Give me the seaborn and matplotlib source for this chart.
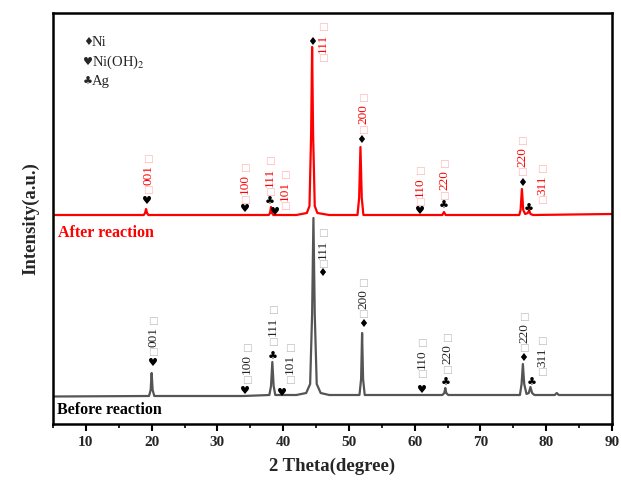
import numpy as np
import pandas as pd
import matplotlib
matplotlib.use("Agg")
import matplotlib.pyplot as plt
import seaborn as sns

# ---------------- data ----------------
before_theta = [5, 19.6, 19.85, 20.0, 20.15, 20.4, 34, 37.9, 38.15, 38.35, 38.55, 38.8,
                42, 43.5, 44.1, 44.4, 44.6, 44.8, 45.1, 45.7, 47, 51.6, 51.85, 52.0, 52.15,
                52.4, 64.2, 64.5, 64.65, 64.8, 65.1, 76.0, 76.25, 76.45, 76.65, 77.0, 77.35,
                77.6, 77.85, 78.2, 81.3, 81.6, 81.9, 90]
before_int = [27.5, 28, 34, 51, 34, 28, 28, 29, 38, 62, 38, 29,
              29, 31, 40, 110, 206, 110, 40, 31, 29, 29, 45, 91, 45,
              29, 29, 31, 36, 31, 29, 29, 40, 60, 40, 30, 31,
              37, 31, 29, 29, 31, 29, 29]

after_theta = [5, 18.8, 19.0, 19.15, 19.3, 19.5, 37.8, 38.0, 38.15, 38.3, 38.5,
               42, 43.6, 44.0, 44.25, 44.4, 44.55, 44.8, 45.2, 47, 51.3, 51.55, 51.75,
               51.95, 52.2, 64.2, 64.45, 64.7, 75.9, 76.1, 76.3, 76.5, 76.8, 77.2, 77.4,
               77.6, 78.0, 90]
after_int = [209, 209, 211, 215, 211, 209, 209, 211, 217, 211, 209,
             209, 211, 218, 290, 377, 290, 218, 211, 209, 209, 226, 277,
             226, 209, 209, 212, 209, 209, 214, 235, 214, 210, 211, 214,
             210, 209, 210]

# phase markers: (symbol, 2theta, y)
after_marks = [("♥", 19.29, 223), ("♥", 34.2, 215), ("♣", 38.0, 222), ("♥", 38.76, 212),
               ("♦", 44.39, 382), ("♦", 51.84, 284), ("♥", 60.81, 213), ("♣", 64.46, 218),
               ("♦", 76.32, 241), ("♣", 77.38, 215)]
before_marks = [("♥", 20.21, 61), ("♥", 34.2, 33), ("♣", 38.46, 67), ("♥", 39.82, 31),
                ("♦", 45.91, 151), ("♦", 52.14, 100), ("♥", 61.11, 34), ("♣", 64.76, 41),
                ("♦", 76.47, 66), ("♣", 77.84, 41)]

# hkl labels: (text, 2theta, y-centre)
after_hkl = [("001", 19.45, 249), ("100", 34.2, 240), ("111", 38.0, 247), ("101", 40.28, 233),
             ("111", 46.06, 381), ("200", 52.14, 310), ("110", 60.81, 237), ("220", 64.46, 244),
             ("220", 76.32, 267), ("311", 79.36, 239)]
before_hkl = [("001", 20.21, 87), ("100", 34.5, 60), ("111", 38.46, 98), ("101", 41.04, 60),
              ("111", 46.06, 175), ("200", 52.14, 125), ("110", 61.11, 65), ("220", 64.91, 70),
              ("220", 76.62, 91), ("311", 79.36, 67)]

xticks = [10, 20, 30, 40, 50, 60, 70, 80, 90]

# ---------------- style ----------------
sns.set_theme(style="ticks")
plt.rcParams['font.family'] = ['Liberation Serif', 'DejaVu Sans']
plt.rcParams['mathtext.fontset'] = 'stix'

fig = plt.figure(figsize=(6.21, 4.88), dpi=100)
ax = fig.add_axes([53/621, 64/488, 559/621, 411/488])

df_b = pd.DataFrame({"theta": before_theta, "I": before_int})
df_a = pd.DataFrame({"theta": after_theta, "I": after_int})
sns.lineplot(data=df_b, x="theta", y="I", ax=ax, color="#555555", lw=1.6, sort=False)
sns.lineplot(data=df_a, x="theta", y="I", ax=ax, color="#ff0000", lw=1.6, sort=False)

sym_font = ['DejaVu Sans']
for marks in (after_marks, before_marks):
    for s, x, y in marks:
        ax.text(x, y, s, ha='center', va='center', fontsize=8, color='black',
                family=sym_font, zorder=5)

def hkl(labels, color, boxcolor):
    for t, x, y in labels:
        ax.text(x, y, t, rotation=90, ha='center', va='center', fontsize=9.5,
                color=color, zorder=5)
        for dy in (-15.5, 16):
            ax.text(x, y + dy, "□", ha='center', va='center', fontsize=7.5,
                    color=boxcolor, family=sym_font, zorder=5)

hkl(after_hkl, '#ff0000', '#ffb4b4')
hkl(before_hkl, '#222222', '#bdbdbd')

# legend-like annotations
lx, tx = 10.3, 10.9
for s, lab, y in (("♦", "Ni", 382), ("♥", "Ni(OH)$_2$", 362), ("♣", "Ag", 342)):
    ax.text(lx, y, s, fontsize=8, family=sym_font, ha='center', va='center')
    ax.text(tx, y, lab, fontsize=10.5, ha='left', va='center')

ax.text(5.7, 191, "After reaction", color='#ff0000', fontsize=11.5, fontweight='bold',
        ha='left', va='center')
ax.text(5.6, 14, "Before reaction", color='black', fontsize=11.5, fontweight='bold',
        ha='left', va='center')

ax.set_xlim(5, 90)
ax.set_ylim(0, 411)
ax.set_xticks(xticks)
ax.set_xticks(np.arange(5, 91, 5), minor=True)
ax.set_yticks([])
ax.tick_params(axis='x', which='major', direction='out', length=5, width=1.5,
               labelsize=11, pad=4, color='black')
ax.tick_params(axis='x', which='minor', direction='out', length=3, width=1.2, color='black')
for lab in ax.get_xticklabels():
    lab.set_fontweight('bold')
for sp in ax.spines.values():
    sp.set_visible(True)
    sp.set_linewidth(1.8)
    sp.set_color('black')

ax.set_xlabel("2 Theta(degree)", fontsize=13.5, fontweight='bold', labelpad=6)
ax.set_ylabel("Intensity(a.u.)", fontsize=13.5, fontweight='bold', labelpad=10)

fig.savefig("out.png", dpi=100)
